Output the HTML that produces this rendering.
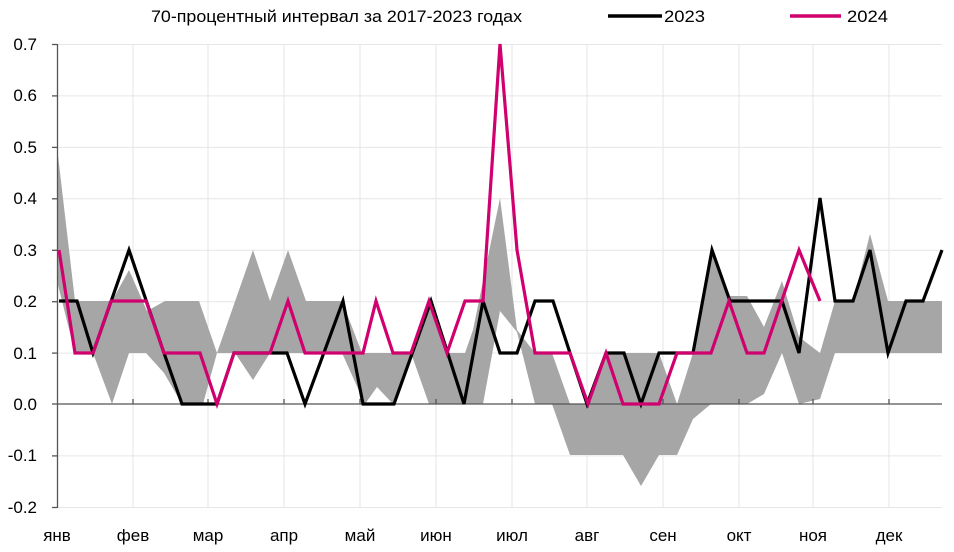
<!DOCTYPE html>
<html><head><meta charset="utf-8"><style>
html,body{margin:0;padding:0;background:#fff}
svg{display:block}
text{font-family:"Liberation Sans Narrow","Liberation Sans",sans-serif;font-size:17px;fill:#000}
</style></head><body>
<svg width="954" height="552" viewBox="0 0 954 552" xmlns="http://www.w3.org/2000/svg">
<defs><clipPath id="c"><rect x="40" y="40" width="910" height="474"/></clipPath></defs>
<g stroke="#e6e6e6" stroke-width="1">
<line x1="57" x2="942" y1="44.5" y2="44.5"/>
<line x1="57" x2="942" y1="95.9" y2="95.9"/>
<line x1="57" x2="942" y1="147.4" y2="147.4"/>
<line x1="57" x2="942" y1="198.8" y2="198.8"/>
<line x1="57" x2="942" y1="250.3" y2="250.3"/>
<line x1="57" x2="942" y1="301.7" y2="301.7"/>
<line x1="57" x2="942" y1="353.1" y2="353.1"/>
<line x1="57" x2="942" y1="455.9" y2="455.9"/>
<line x1="57" x2="942" y1="507.5" y2="507.5"/>
<line x1="133" x2="133" y1="44" y2="508"/><line x1="208" x2="208" y1="44" y2="508"/>
<line x1="284" x2="284" y1="44" y2="508"/><line x1="360" x2="360" y1="44" y2="508"/>
<line x1="436" x2="436" y1="44" y2="508"/><line x1="512" x2="512" y1="44" y2="508"/>
<line x1="587" x2="587" y1="44" y2="508"/><line x1="663" x2="663" y1="44" y2="508"/>
<line x1="739" x2="739" y1="44" y2="508"/><line x1="813" x2="813" y1="44" y2="508"/>
<line x1="889" x2="889" y1="44" y2="508"/>
</g>
<polygon fill="#a6a6a6" points="
57,147 75,301 112,301 129,270 147,311 165,301 199,301 217,353 253,250 270,301 288,250 306,301 342,301 362,353 410,353 429,301 447,353 465,353 473,330 500,198 517,330 535,353 552,353 570,404 588,404 606,353 659,353 677,404 693,353 712,250 730,296 747,296 764,327 782,281 799,337 820,353 835,301 853,301 870,234 888,301 942,301
942,353 835,353 820,399 799,404 782,353 764,394 747,404 711,404 693,419 677,455 659,455 641,486 623,455 570,455 552,404 535,404 517,332 500,311 483,404 429,404 411,353 393,404 377,387 365,404 342,353 270,353 253,380 235,353 217,353 203,404 182,404 164,373 146,353 129,353 112,404 93,353 75,353 57,281"/>
<g stroke="#555" stroke-width="1.3" fill="none">
<line x1="57" x2="942" y1="404" y2="404"/>
<line x1="57.5" x2="57.5" y1="44" y2="508"/>
</g>
<g stroke="#555" stroke-width="1.3">
<line x1="52" x2="57" y1="44.5" y2="44.5"/><line x1="52" x2="57" y1="95.9" y2="95.9"/>
<line x1="52" x2="57" y1="147.4" y2="147.4"/><line x1="52" x2="57" y1="198.8" y2="198.8"/>
<line x1="52" x2="57" y1="250.3" y2="250.3"/><line x1="52" x2="57" y1="301.7" y2="301.7"/>
<line x1="52" x2="57" y1="353.1" y2="353.1"/><line x1="52" x2="57" y1="404" y2="404"/>
<line x1="52" x2="57" y1="455.9" y2="455.9"/><line x1="52" x2="57" y1="507.5" y2="507.5"/>
<line x1="133" x2="133" y1="399" y2="404"/><line x1="208" x2="208" y1="399" y2="404"/>
<line x1="284" x2="284" y1="399" y2="404"/><line x1="360" x2="360" y1="399" y2="404"/>
<line x1="436" x2="436" y1="399" y2="404"/><line x1="512" x2="512" y1="399" y2="404"/>
<line x1="587" x2="587" y1="399" y2="404"/><line x1="663" x2="663" y1="399" y2="404"/>
<line x1="739" x2="739" y1="399" y2="404"/><line x1="813" x2="813" y1="399" y2="404"/>
<line x1="889" x2="889" y1="399" y2="404"/>
</g>
<polyline fill="none" stroke="#000" stroke-width="3.2" stroke-linejoin="miter" points="
59,301 77,301 93,353 129,250 164,353 182,404 217,404 234,353 287,353 305,404 343,301 363,404 394,404 431,301 464,404 483,301 500,353 517,353 535,301 553,301 570,353 587,404 606,353 624,353 641,404 659,353 693,353 712,250 730,301 782,301 799,353 820,198 835,301 853,301 870,250 888,353 906,301 923,301 942,250"/>
<polyline clip-path="url(#c)" fill="none" stroke="#d0006f" stroke-width="3.2" stroke-linejoin="miter" points="
59,250 75,353 93,353 111,301 146,301 164,353 200,353 217,404 234,353 270,353 288,301 305,353 363,353 376,301 393,353 411,353 429,301 447,353 465,301 483,301 500,44 517,250 535,353 570,353 588,404 606,353 623,404 659,404 677,353 711,353 729,301 747,353 764,353 799,250 820,301"/>
<g text-anchor="end">
<text x="37" y="50">0.7</text><text x="37" y="101">0.6</text><text x="37" y="153">0.5</text>
<text x="37" y="204">0.4</text><text x="37" y="256">0.3</text><text x="37" y="307">0.2</text>
<text x="37" y="359">0.1</text><text x="37" y="410">0.0</text><text x="37" y="461">-0.1</text>
<text x="37" y="513">-0.2</text>
</g>
<g text-anchor="middle">
<text x="57" y="541">янв</text><text x="133" y="541">фев</text><text x="208" y="541">мар</text>
<text x="284" y="541">апр</text><text x="360" y="541">май</text><text x="436" y="541">июн</text>
<text x="512" y="541">июл</text><text x="587" y="541">авг</text><text x="663" y="541">сен</text>
<text x="739" y="541">окт</text><text x="813" y="541">ноя</text><text x="889" y="541">дек</text>
</g>
<text x="151" y="22" textLength="371" lengthAdjust="spacingAndGlyphs">70-процентный интервал за 2017-2023 годах</text>
<line x1="608" x2="662" y1="16" y2="16" stroke="#000" stroke-width="3.5"/>
<text x="664" y="22" textLength="41" lengthAdjust="spacingAndGlyphs">2023</text>
<line x1="790" x2="841" y1="16" y2="16" stroke="#d0006f" stroke-width="3.5"/>
<text x="847" y="22" textLength="41" lengthAdjust="spacingAndGlyphs">2024</text>
</svg>
</body></html>
